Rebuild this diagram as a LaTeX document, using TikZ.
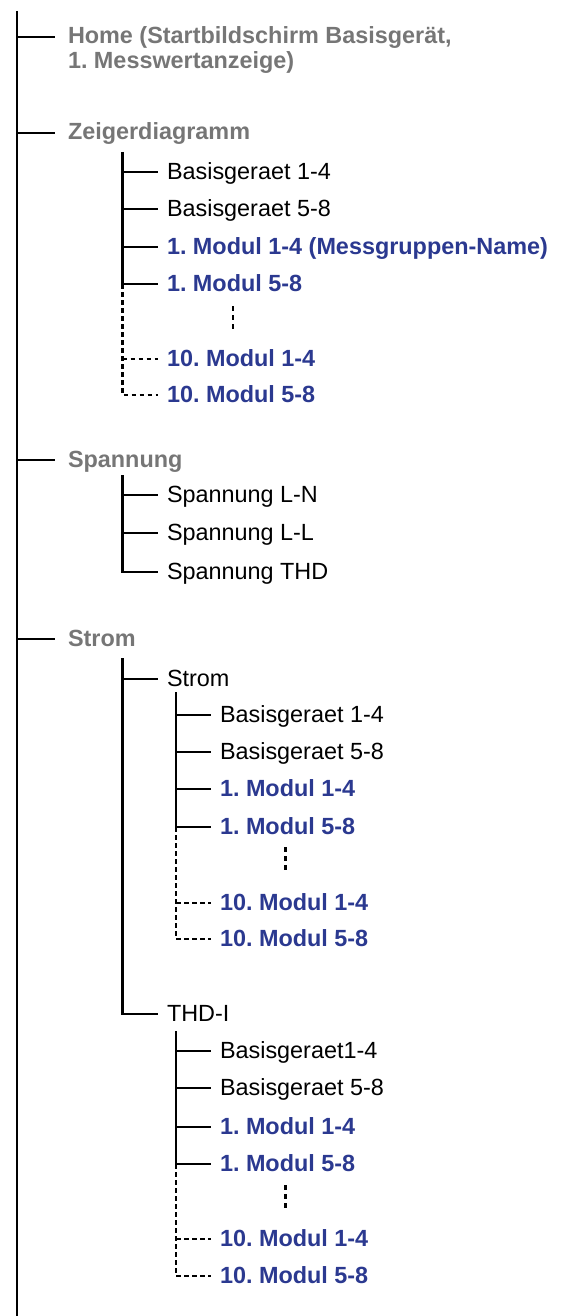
\documentclass[tikz,border=0pt]{standalone}
\usepackage{fontspec}
\setmainfont{Liberation Sans}
\definecolor{lvlgray}{RGB}{118,118,118}
\definecolor{modblue}{RGB}{43,57,144}
\frenchspacing
\begin{document}
\begin{tikzpicture}[x=1pt,y=-1pt,
  every node/.style={inner sep=0pt, outer sep=0pt, anchor=west,
    font=\fontsize{23.4}{24.5}\selectfont, text height=17pt, text depth=3pt},
  top/.style={font=\fontsize{23.4}{24.5}\selectfont\bfseries, text=lvlgray},
  item/.style={text=black},
  mod/.style={font=\fontsize{23.4}{24.5}\selectfont\bfseries, text=modblue},
  tree/.style={line width=2.4pt},
  dots/.style={line width=2.4pt, dash pattern=on 4.5pt off 3.5pt},
  vdots/.style={line width=2.4pt, dash pattern=on 5pt off 4pt},
]
\useasboundingbox (0,0) rectangle (563,1316);

% root
\coordinate (root) at (17,11);
\coordinate (rootend) at (17,1316);
\draw[tree] (root) -- (rootend);

% level 1
\node[top, align=left, anchor=base west, text height=, text depth=] (home) at (68,68.5)
  {Home (Startbildschirm Basisgerät,\\1. Messwertanzeige)};
\node[top] (zeig) at (68,133) {Zeigerdiagramm};
\node[top] (span) at (68,460) {Spannung};
\node[top] (strom) at (68,639) {Strom};

\draw[tree] (root |- 0,37) -- ([xshift=-13pt,yshift=31.5pt]home.base west);
\foreach \n in {zeig,span,strom}
  \draw[tree] (root |- \n.west) -- ([xshift=-13pt]\n.west);

% Zeigerdiagramm children
\node[item] (z1) at (167,172) {Basisgeraet 1-4};
\node[item] (z2) at (167,209) {Basisgeraet 5-8};
\node[mod]  (z3) at (167,247) {1. Modul 1-4 (Messgruppen-Name)};
\node[mod]  (z4) at (167,284) {1. Modul 5-8};
\node[mod]  (z5) at (167,359) {10. Modul 1-4};
\node[mod]  (z6) at (167,395) {10. Modul 5-8};
\coordinate (zv) at (122.5,152);
\draw[tree] (zv) |- ([xshift=-9pt]z4.west);
\foreach \n in {z1,z2,z3}
  \draw[tree] (zv |- \n.west) -- ([xshift=-9pt]\n.west);
\draw[dots] (zv |- z4.west) |- ([xshift=-9pt]z6.west);
\draw[dots] (zv |- z5.west) -- ([xshift=-9pt]z5.west);
\coordinate (zd1) at (233,306);
\coordinate (zd2) at (233,329);
\draw[vdots] (zd1) -- (zd2);

% Spannung children
\node[item] (s1) at (167,495) {Spannung L-N};
\node[item] (s2) at (167,533) {Spannung L-L};
\node[item] (s3) at (167,572) {Spannung THD};
\coordinate (sv) at (122.5,475);
\draw[tree] (sv) |- ([xshift=-9pt]s3.west);
\foreach \n in {s1,s2}
  \draw[tree] (sv |- \n.west) -- ([xshift=-9pt]\n.west);

% Strom children
\node[item] (st) at (167,679) {Strom};
\node[item] (th) at (167,1014) {THD-I};
\coordinate (stv) at (122.5,658);
\draw[tree] (stv) |- ([xshift=-9pt]th.west);
\draw[tree] (stv |- st.west) -- ([xshift=-9pt]st.west);

% Strom -> Strom children
\node[item] (a1) at (220,715) {Basisgeraet 1-4};
\node[item] (a2) at (220,752) {Basisgeraet 5-8};
\node[mod]  (a3) at (220,789) {1. Modul 1-4};
\node[mod]  (a4) at (220,827) {1. Modul 5-8};
\node[mod]  (a5) at (220,903) {10. Modul 1-4};
\node[mod]  (a6) at (220,939) {10. Modul 5-8};
\coordinate (av) at (176,692);
\draw[tree] (av) |- ([xshift=-9pt]a4.west);
\foreach \n in {a1,a2,a3}
  \draw[tree] (av |- \n.west) -- ([xshift=-9pt]\n.west);
\draw[dots] (av |- a4.west) |- ([xshift=-9pt]a6.west);
\draw[dots] (av |- a5.west) -- ([xshift=-9pt]a5.west);
\coordinate (ad1) at (285.5,847);
\coordinate (ad2) at (285.5,870);
\draw[vdots] (ad1) -- (ad2);

% THD-I children
\node[item] (b1) at (220,1051) {Basisgeraet1-4};
\node[item] (b2) at (220,1088) {Basisgeraet 5-8};
\node[mod]  (b3) at (220,1127) {1. Modul 1-4};
\node[mod]  (b4) at (220,1164) {1. Modul 5-8};
\node[mod]  (b5) at (220,1239) {10. Modul 1-4};
\node[mod]  (b6) at (220,1276) {10. Modul 5-8};
\coordinate (bv) at (176,1031);
\draw[tree] (bv) |- ([xshift=-9pt]b4.west);
\foreach \n in {b1,b2,b3}
  \draw[tree] (bv |- \n.west) -- ([xshift=-9pt]\n.west);
\draw[dots] (bv |- b4.west) |- ([xshift=-9pt]b6.west);
\draw[dots] (bv |- b5.west) -- ([xshift=-9pt]b5.west);
\coordinate (bd1) at (285.5,1185);
\coordinate (bd2) at (285.5,1208);
\draw[vdots] (bd1) -- (bd2);
\end{tikzpicture}
\end{document}
